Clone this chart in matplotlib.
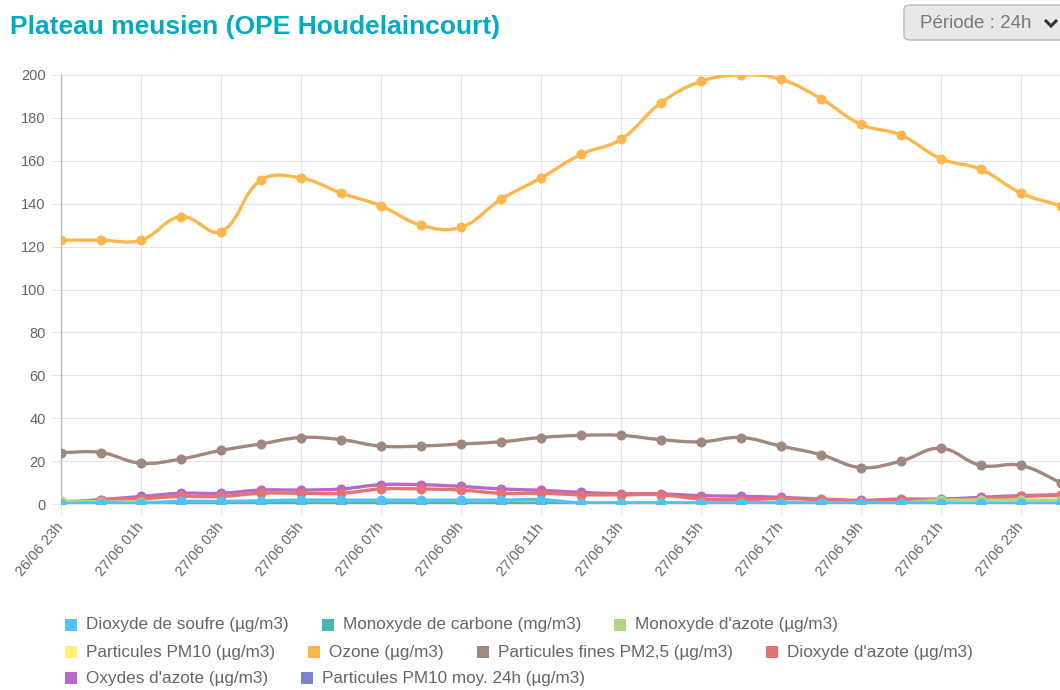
import matplotlib
matplotlib.use("Agg")
import matplotlib.pyplot as plt
import numpy as np
from matplotlib.path import Path
from matplotlib.patches import PathPatch, FancyBboxPatch, Rectangle
from matplotlib.lines import Line2D

plt.rcParams['font.family'] = ['Liberation Sans', 'DejaVu Sans']

# hourly timestamps (26/06 23h -> 28/06 00h)
labels = ['26/06 23h', '27/06 00h', '27/06 01h', '27/06 02h', '27/06 03h', '27/06 04h',
          '27/06 05h', '27/06 06h', '27/06 07h', '27/06 08h', '27/06 09h', '27/06 10h',
          '27/06 11h', '27/06 12h', '27/06 13h', '27/06 14h', '27/06 15h', '27/06 16h',
          '27/06 17h', '27/06 18h', '27/06 19h', '27/06 20h', '27/06 21h', '27/06 22h',
          '27/06 23h', '28/06 00h']

so2 = [0, 0.5, 0.3, 1.2, 1.2, 1.5, 1.8, 1.8, 1.8, 1.8, 1.8, 1.8, 2, 0.5, 0.5, 0.5,
       0.5, 0.5, 0.5, 0.5, 0.5, 0.5, 0.3, 0.3, 0.3, 0.3]
co = [0.1, 0.1, 0.1, 0.1, 0.1, 0.1, 0.1, 0.1, 0.1, 0.1, 0.1, 0.1, 0.1, 0.1, 0.1, 0.1,
      0.1, 0.1, 0.1, 0.1, 0.1, 0.1, 0.1, 0.1, 0.1, 0.1]
no = [1.5, 1, 1, 0.6, 0.6, 0.6, 0.6, 0.6, 0.6, 0.6, 0.6, 0.6, 0.6, 0.6, 0.6, 0.6,
      0.6, 0.6, 0.6, 0.6, 0.6, 0.6, 1.8, 1.8, 1.8, 1.8]
pm10 = []
o3 = [123, 123, 123, 134, 127, 151, 152, 145, 139, 130, 129, 142, 152, 163, 170, 187,
      197, 200, 198, 189, 177, 172, 161, 156, 145, 139]
pm25 = [24, 24, 19, 21, 25, 28, 31, 30, 27, 27, 28, 29, 31, 32, 32, 30,
        29, 31, 27, 23, 17, 20, 26, 18, 18, 10]
no2 = [0.5, 2, 2.5, 3.5, 3.5, 5, 5, 5, 7, 7, 6.5, 5, 5, 4.3, 4.3, 4.3,
       2.3, 2, 2.5, 2, 1.5, 2, 2, 2.5, 3.5, 4]
nox = [0.5, 2, 3.5, 5, 5, 6.5, 6.5, 7, 9, 9, 8.2, 7, 6.4, 5.4, 4.8, 4.7,
       3.9, 3.6, 3.1, 2.3, 1.7, 2.3, 2.3, 3.1, 3.9, 4.3]
pm10_moy = []

series_names = ['Dioxyde de soufre (µg/m3)', 'Monoxyde de carbone (mg/m3)',
                "Monoxyde d'azote (µg/m3)", 'Particules PM10 (µg/m3)', 'Ozone (µg/m3)',
                'Particules fines PM2,5 (µg/m3)', "Dioxyde d'azote (µg/m3)",
                "Oxydes d'azote (µg/m3)", 'Particules PM10 moy. 24h (µg/m3)']
series_values = [so2, co, no, pm10, o3, pm25, no2, nox, pm10_moy]
colors = ['#4fc3f7', '#4db6ac', '#aed581', '#fff176', '#ffb74d',
          '#a1887f', '#e57373', '#ba68c8', '#7986cb']
legend_rows = [[0, 1, 2], [3, 4, 5, 6], [7, 8]]

W, H = 1060, 690
fig = plt.figure(figsize=(W / 100, H / 100), dpi=100)
ax = fig.add_axes([61 / W, 1 - 504 / H, (W - 61) / W, (504 - 75) / H])

n = len(labels)
x = np.arange(n)
ax.set_xlim(0, 24.98)
ax.set_ylim(0, 200)

grid_c = '#e4e4e4'
ax.set_yticks(np.arange(0, 201, 20))
ax.set_xticks(x[::2])
ax.set_xticklabels(labels[::2], rotation=50, ha='right', va='center',
                   rotation_mode='anchor')
ax.tick_params(axis='y', length=7, width=0.8, color=grid_c, labelcolor='#666666',
               labelsize=10.5, pad=4)
ax.tick_params(axis='x', length=7, width=0.8, color=grid_c, labelcolor='#666666',
               labelsize=10.5, pad=8)
ax.grid(True, color=grid_c, lw=0.8)
ax.set_axisbelow(True)
for s in ['top', 'right']:
    ax.spines[s].set_visible(False)
ax.spines['left'].set_color('#b5b5b5')
ax.spines['bottom'].set_color(grid_c)
ax.spines['left'].set_linewidth(0.9)
ax.spines['bottom'].set_linewidth(0.8)


def bezier_path(xs, ys, tension=0.4):
    # Chart.js style spline, control points computed in pixel space
    pts = ax.transData.transform(np.column_stack([xs, ys]))
    verts = [pts[0]]
    codes = [Path.MOVETO]
    m = len(pts)
    cps = []
    for i in range(m):
        p0 = pts[max(i - 1, 0)]
        p1 = pts[i]
        p2 = pts[min(i + 1, m - 1)]
        d01 = np.hypot(*(p1 - p0))
        d12 = np.hypot(*(p2 - p1))
        tot = d01 + d12
        s01 = d01 / tot if tot else 0
        s12 = d12 / tot if tot else 0
        cp_prev = p1 - tension * s01 * (p2 - p0)
        cp_next = p1 + tension * s12 * (p2 - p0)
        cps.append((cp_prev, cp_next))
    for i in range(1, m):
        verts += [cps[i - 1][1], cps[i][0], pts[i]]
        codes += [Path.CURVE4] * 3
    verts = ax.transData.inverted().transform(np.array(verts))
    return Path(verts, codes)


for k, (vals, col) in enumerate(zip(series_values, colors)):
    if len(vals) == 0:
        continue
    z = 20 - k * 2
    path = bezier_path(x[:len(vals)], vals)
    ax.add_patch(PathPatch(path, fill=False, edgecolor=col, lw=2.4, zorder=z,
                           capstyle='round', joinstyle='round'))
    ax.plot(x[:len(vals)], vals, 'o', ms=6.2, color=col, mec=col, zorder=z + 0.5,
            clip_on=True)

# title
fig.text(10 / W, 1 - 27 / H, 'Plateau meusien (OPE Houdelaincourt)', color='#00acc1',
         fontsize=19, fontweight='bold', va='center', ha='left')

# period selector
btn = FancyBboxPatch((904 / W, 1 - 40 / H), 170 / W, 35 / H,
                     boxstyle='round,pad=0,rounding_size=0.006',
                     transform=fig.transFigure, facecolor='#e8e8e8',
                     edgecolor='#b8b8b8', lw=1.0)
fig.patches.append(btn)
fig.text(920 / W, 1 - 23 / H, 'Période : 24h', color='#7a7a7a', fontsize=13.5,
         va='center', ha='left')
fig.lines.append(Line2D([1045 / W, 1051 / W, 1057 / W],
                        [1 - 20 / H, 1 - 26 / H, 1 - 20 / H],
                        transform=fig.transFigure, color='#333333', lw=2.2,
                        solid_capstyle='butt', solid_joinstyle='miter'))

# legend (left aligned rows)
fig.canvas.draw()
renderer = fig.canvas.get_renderer()
row_y = [625, 652, 678]
for r, row in enumerate(legend_rows):
    cx = 65
    yy = row_y[r]
    for k in row:
        fig.patches.append(Rectangle((cx / W, 1 - (yy + 6) / H), 12 / W, 12 / H,
                                     transform=fig.transFigure, facecolor=colors[k],
                                     edgecolor='none'))
        t = fig.text((cx + 21) / W, 1 - yy / H, series_names[k], color='#666666',
                     fontsize=12.3, va='center', ha='left')
        bb = t.get_window_extent(renderer)
        cx = cx + 21 + bb.width + 33

fig.savefig('out.png', dpi=100, facecolor='white')
